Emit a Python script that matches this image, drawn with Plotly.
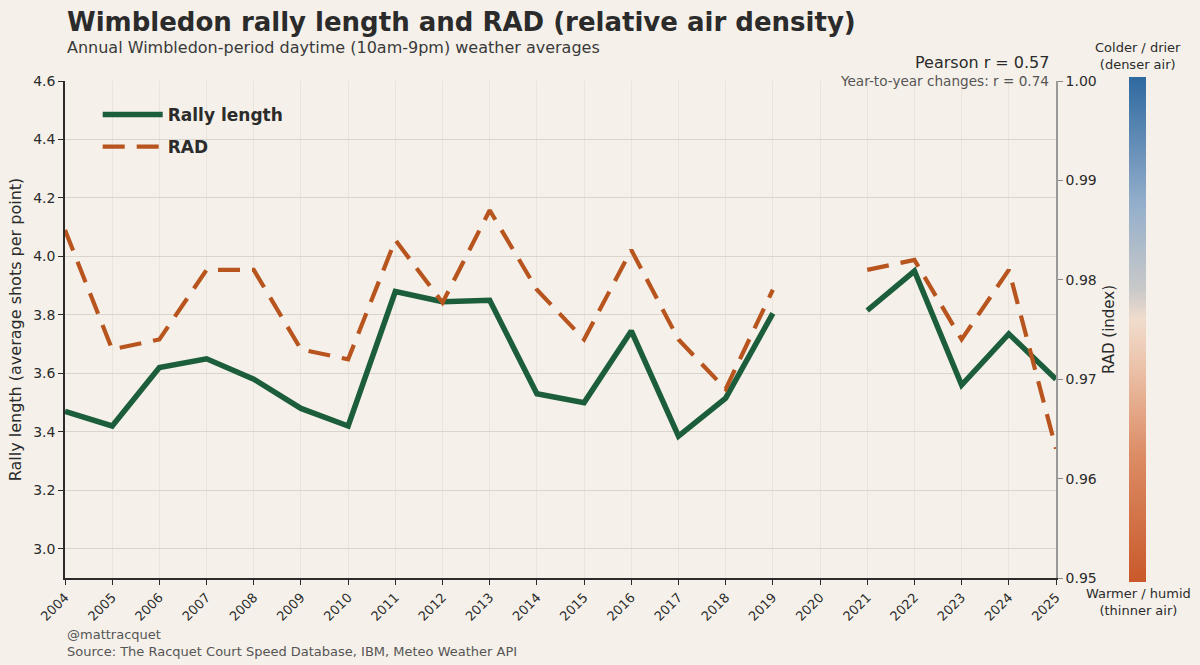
import plotly.graph_objects as go

years = list(range(2004, 2026))
rally_length = [3.47, 3.42, 3.62, 3.65, 3.58, 3.48, 3.42, 3.88, 3.845, 3.85, 3.53,
                3.50, 3.745, 3.385, 3.515, 3.805, None, 3.815, 3.95, 3.56, 3.735, 3.58]
rad = [0.985, 0.973, 0.974, 0.981, 0.981, 0.973, 0.972, 0.984, 0.9777, 0.987, 0.979,
       0.974, 0.983, 0.974, 0.969, 0.979, None, 0.981, 0.982, 0.974, 0.981, 0.963]
left_ticks = [3.0, 3.2, 3.4, 3.6, 3.8, 4.0, 4.2, 4.4, 4.6]
right_ticks = [0.95, 0.96, 0.97, 0.98, 0.99, 1.00]

BG = "#f5f1ea"
GREEN = "#1c5e3c"
ORANGE = "#b8541e"
TXT = "#2b2b2b"
FONT = "DejaVu Sans"

W, H = 1200, 665
L, R, T, B = 65, 1056, 81, 578
pw, ph = R - L, B - T

def px_x(x):
    return (x - L) / pw

def px_y(y):
    return (B - y) / ph

fig = go.Figure()
fig.add_trace(go.Scatter(
    x=years, y=rally_length, mode="lines", name="Rally length", legendgroup="rl",
    line=dict(color=GREEN, width=5.5), connectgaps=False, yaxis="y"))
fig.add_trace(go.Scatter(
    x=years, y=rad, mode="lines", name="RAD", legendgroup="rad",
    line=dict(color=ORANGE, width=4.2, dash="22px,12px"), connectgaps=False, yaxis="y2"))

# colorbar via invisible marker trace
cscale = [[0.0, "#c9592a"], [0.25, "#dc8c65"], [0.45, "#edc9b3"], [0.52, "#f0dccd"],
          [0.58, "#c9c9c9"], [0.75, "#93aecb"], [1.0, "#2e69a0"]]
fig.add_trace(go.Scatter(
    x=[None, None], y=[None, None], mode="markers", showlegend=False, hoverinfo="skip",
    marker=dict(color=[0.95, 1.0], cmin=0.95, cmax=1.0, colorscale=cscale, showscale=True,
                colorbar=dict(x=px_x(1129), xanchor="left", xref="paper",
                              y=px_y(329.5), yanchor="middle", yref="paper",
                              thickness=17, thicknessmode="pixels",
                              len=505, lenmode="pixels", xpad=0, ypad=0,
                              outlinewidth=0, showticklabels=False, ticks="")),
    yaxis="y2"))

fig.update_layout(
    width=W, height=H,
    margin=dict(l=L, r=W - R, t=T, b=H - B),
    paper_bgcolor=BG, plot_bgcolor=BG,
    font=dict(family=FONT, color=TXT, size=14),
    showlegend=True,
    legend=dict(x=0.033, y=0.968, xanchor="left", yanchor="top",
                bgcolor="rgba(0,0,0,0)", font=dict(size=17, weight="bold", color=TXT),
                itemwidth=60, tracegroupgap=7),
    xaxis=dict(range=[2004, 2025], tickmode="array", tickvals=years,
               ticktext=[str(y) for y in years], tickangle=-45,
               tickfont=dict(size=13), ticks="outside", ticklen=5, tickcolor=TXT,
               showline=True, linecolor=TXT, linewidth=1.5, mirror=False,
               showgrid=True, gridcolor="#e9e4dc", gridwidth=1, zeroline=False),
    yaxis=dict(range=[2.9, 4.6], tickmode="array", tickvals=left_ticks,
               ticktext=[f"{v:.1f}" for v in left_ticks], tickfont=dict(size=14),
               ticks="outside", ticklen=5, tickcolor=TXT,
               showline=True, linecolor=TXT, linewidth=1.5,
               showgrid=True, gridcolor="#d9d4cc", gridwidth=1, zeroline=False,
               title=dict(text="Rally length (average shots per point)", font=dict(size=16),
                          standoff=8)),
    yaxis2=dict(range=[0.95, 1.00], overlaying="y", side="right", tickmode="array",
                tickvals=right_ticks, ticktext=[f"{v:.2f}" for v in right_ticks],
                tickfont=dict(size=14), ticks="outside", ticklen=5, tickcolor="#888",
                showline=True, linecolor="#999", linewidth=1.5, showgrid=False, zeroline=False,
                title=dict(text="RAD (index)", font=dict(size=15), standoff=8)),
)

ann = [
    dict(text="<b>Wimbledon rally length and RAD (relative air density)</b>",
         xref="paper", yref="paper", x=0, y=px_y(22), xanchor="left", yanchor="middle",
         font=dict(size=26, color=TXT)),
    dict(text="Annual Wimbledon-period daytime (10am-9pm) weather averages",
         xref="paper", yref="paper", x=0, y=px_y(47), xanchor="left", yanchor="middle",
         font=dict(size=16, color="#3a3a3a")),
    dict(text="Pearson r = 0.57", xref="paper", yref="paper", x=px_x(1051), y=px_y(62),
         xanchor="right", yanchor="middle", font=dict(size=16, color=TXT)),
    dict(text="Year-to-year changes: r = 0.74", xref="paper", yref="paper", x=px_x(1051),
         y=px_y(81), xanchor="right", yanchor="middle", font=dict(size=13.6, color="#555")),
    dict(text="Colder / drier<br>(denser air)", xref="paper", yref="paper", x=px_x(1138),
         y=px_y(74), xanchor="center", yanchor="bottom", font=dict(size=13, color=TXT)),
    dict(text="Warmer / humid<br>(thinner air)", xref="paper", yref="paper", x=px_x(1138),
         y=px_y(584), xanchor="center", yanchor="top", font=dict(size=13, color=TXT)),
    dict(text="@mattracquet<br>Source: The Racquet Court Speed Database, IBM, Meteo Weather API",
         xref="paper", yref="paper", x=0, y=px_y(625), xanchor="left", yanchor="top",
         align="left", font=dict(size=13, color="#555")),
]
for a in ann:
    a["showarrow"] = False
fig.update_layout(annotations=ann)

fig.write_html("out.html")
